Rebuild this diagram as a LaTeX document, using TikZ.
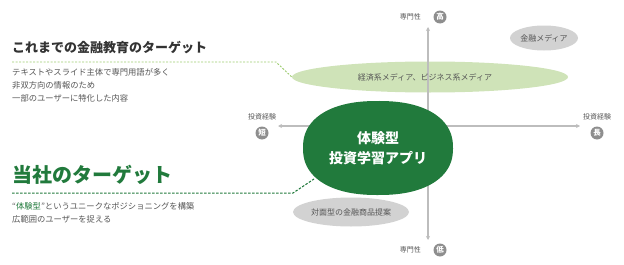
\documentclass[tikz,border=0pt]{standalone}
\usepackage{fontspec}
\setmainfont{Noto Sans CJK JP}
\usetikzlibrary{shapes.geometric,arrows.meta}
\definecolor{dgreen}{HTML}{217A3C}
\definecolor{lgreen}{HTML}{CFE3B8}
\definecolor{lgdash}{HTML}{9CCB6E}
\definecolor{ovalgray}{HTML}{D2D2D2}
\definecolor{txtgray}{HTML}{555555}
\definecolor{circgray}{HTML}{8E8E8E}
\definecolor{axisgray}{HTML}{BDBDBD}
\tikzset{
  axisline/.style={draw=axisgray,line width=1.2pt,-{Stealth[length=4pt,width=4pt]}},
  oval/.style={ellipse,inner sep=0pt,font=\fontsize{8}{9}\selectfont,text=txtgray},
  axlabel/.style={font=\fontsize{7}{8}\selectfont,text=txtgray,inner sep=0pt},
  endcirc/.style={circle,fill=circgray,text=white,minimum size=13pt,inner sep=0pt,font=\fontsize{7.5}{8}\selectfont\bfseries},
  bodytext/.style={anchor=north west,align=left,inner sep=0pt,font=\fontsize{8.3}{13}\selectfont,text=txtgray},
}
\begin{document}
\begin{tikzpicture}[x=1pt,y=-1pt]
\useasboundingbox (0,0) rectangle (624,265);
% light green ellipse
\node[oval,fill=lgreen,minimum width=276pt,minimum height=31pt] (media) at (430,77) {};
% axes
\coordinate (vtop) at (428,27);
\coordinate (vbot) at (428,240);
\coordinate (hleft) at (278,126);
\coordinate (hright) at (580,126);
\draw[axisline] (428,126) -- (vtop);
\draw[axisline] (428,126) -- (vbot);
\draw[axisline] (428,126) -- (hleft);
\draw[axisline] (428,126) -- (hright);
\node[oval] (medialabel) at (425,77) {経済系メディア、ビジネス系メディア};
% dark green blob (superellipse)
\fill[dgreen] plot[domain=0.5:360.5,samples=121,smooth cycle]
  ({378+75*sign(cos(\x))*pow(abs(cos(\x)),0.87)},{148+47*sign(sin(\x))*pow(abs(sin(\x)),0.87)});
\node[ellipse,minimum width=150pt,minimum height=94pt,inner sep=0pt,text=white,align=center,font=\fontsize{14}{20}\selectfont\bfseries] (app) at (378,148) {体験型\\投資学習アプリ};
% gray ovals
\node[oval,fill=ovalgray,minimum width=68pt,minimum height=25pt] (kinyu) at (544,38) {金融メディア};
\node[oval,fill=ovalgray,minimum width=116pt,minimum height=29pt] (taimen) at (351,212) {対面型の金融商品提案};
% axis labels
\node[axlabel,anchor=east] (toplab) at (421,17) {専門性};
\node[endcirc] (high) at (440,17) {高};
\node[axlabel,anchor=east] (botlab) at (421,250) {専門性};
\node[endcirc] (low) at (440,250) {低};
\node[axlabel] (leftlab) at (262,117) {投資経験};
\node[endcirc] (short) at (262,133) {短};
\node[axlabel] (rightlab) at (597,117) {投資経験};
\node[endcirc] (long) at (597,133) {長};
% left texts
\node[anchor=west,inner sep=0pt,font=\fontsize{13}{15}\selectfont\bfseries,text=black!80] (old) at (12,48) {これまでの金融教育のターゲット};
\coordinate (oldA) at (12,62);
\coordinate (oldB) at (276,62);
\draw[lgdash,dashed,dash pattern=on 2pt off 1.5pt,line width=0.9pt] (oldA) -- (oldB) -- (media.west);
\node[bodytext] (oldtxt) at (12,68) {テキストやスライド主体で専門用語が多く\\非双方向の情報のため\\一部のユーザーに特化した内容};
\node[anchor=west,inner sep=0pt,font=\fontsize{20}{22}\selectfont\bfseries,text=dgreen] (ours) at (12,175) {当社のターゲット};
\coordinate (oursA) at (12,193);
\coordinate (oursB) at (293,193);
\coordinate (oursC) at (314,179);
\draw[dgreen,dashed,dash pattern=on 2.5pt off 1.5pt,line width=1pt] (oursA) -- (oursB) -- (oursC);
\node[bodytext] (ourtxt) at (12,202) {“{\color{dgreen}体験型}”というユニークなポジショニングを構築\\広範囲のユーザーを捉える};
\end{tikzpicture}
\end{document}
